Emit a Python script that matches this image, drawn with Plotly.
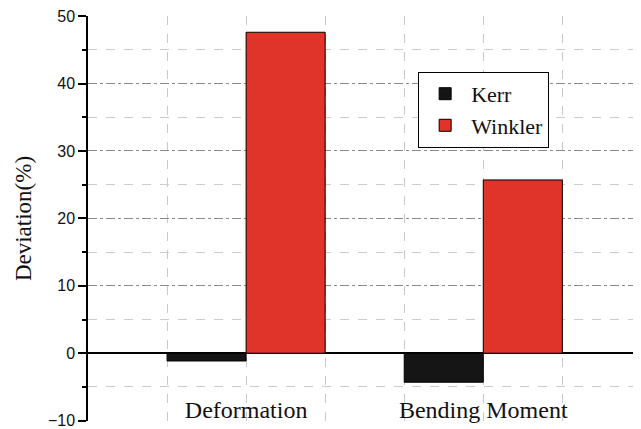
import plotly.graph_objects as go

categories = ['Deformation', 'Bending Moment']
kerr = [-1.15, -4.3]
winkler = [47.6, 25.7]
y_ticks = [-10, 0, 10, 20, 30, 40, 50]

serif = 'Liberation Serif'
sans = 'Liberation Sans'

x_pos = list(range(len(categories)))

fig = go.Figure()
fig.add_trace(go.Bar(x=x_pos, y=kerr, name='Kerr',
                     marker=dict(color='#151515', line=dict(color='black', width=1))))
fig.add_trace(go.Bar(x=x_pos, y=winkler, name='Winkler',
                     marker=dict(color='#E0332A', line=dict(color='black', width=1))))

# page body has an 8px margin, so the figure is sized to fit inside the window
fig.update_layout(
    width=633, height=421,
    margin=dict(l=80, r=0, t=8, b=8),
    paper_bgcolor='white', plot_bgcolor='white',
    barmode='group', bargap=1/3, bargroupgap=0,
    showlegend=True,
    legend=dict(x=0.597, y=0.862, xanchor='left', yanchor='top',
                bgcolor='white', bordercolor='black', borderwidth=1,
                font=dict(family=serif, size=22, color='#111'),
                tracegroupgap=0, itemwidth=42),
)

# category labels sit inside the plot, just above the bottom edge
fig.update_xaxes(
    automargin=False,
    anchor='free', position=0.068,
    range=[-2/3, 1.665],
    tickvals=x_pos, ticktext=categories,
    ticks='',
    tickfont=dict(family=serif, size=24, color='#111'),
    showline=False, zeroline=False,
    showgrid=True, gridcolor='#c8c8c8', griddash='dash', gridwidth=1,
    minor=dict(dtick=1/3, tick0=0, showgrid=True, gridcolor='#c8c8c8',
               griddash='dash', gridwidth=1),
)

fig.update_yaxes(
    automargin=False,
    range=[-10.05, 50.01],
    tickmode='array', tickvals=y_ticks,
    ticklabeloverflow='allow',
    showline=True, linecolor='black', linewidth=1.5,
    ticks='outside', ticklen=8, tickwidth=1.5, tickcolor='black',
    tickfont=dict(family=sans, size=16, color='#111'),
    showgrid=True, gridcolor='#8a8a8a', griddash='dashdot', gridwidth=1,
    minor=dict(dtick=5, tick0=0, showgrid=True, gridcolor='#cccccc', griddash='dash',
               ticks='outside', ticklen=4, tickwidth=1.5, tickcolor='black'),
    zeroline=True, zerolinecolor='black', zerolinewidth=1.5,
    title=dict(text='Deviation(%)', font=dict(family=serif, size=23, color='#111'),
               standoff=10),
)

fig.write_html('out.html')
